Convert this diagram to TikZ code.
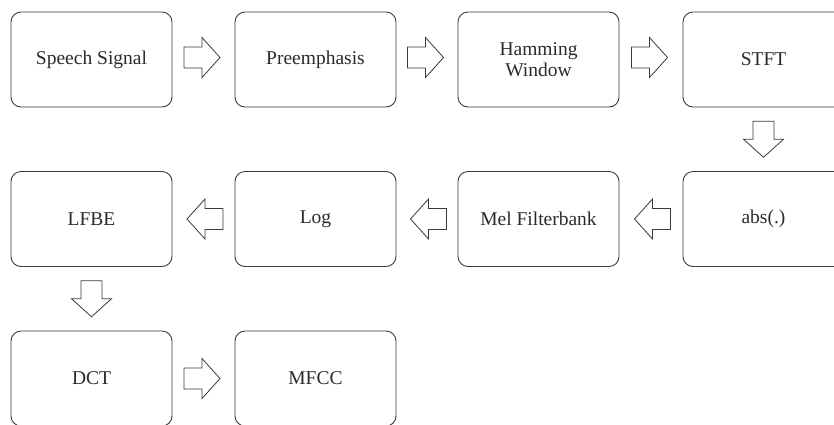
\documentclass[tikz,border=0pt]{standalone}
\usepackage{fontspec}
\setmainfont{Liberation Serif}
\usetikzlibrary{calc}
\definecolor{linec}{HTML}{3A3A3A}
\definecolor{textc}{HTML}{2A2A2A}
\tikzset{
  stagebox/.style={draw=linec, line width=0.9pt, rounded corners=10pt,
    minimum width=161pt, minimum height=95pt, inner sep=0pt, align=center,
    text=textc, font=\fontsize{19.5}{21}\selectfont},
  blockarrow/.pic={
    \draw[draw=linec, line width=0.8pt, fill=white]
      (-18pt,-10.5pt) -- (0pt,-10.5pt) -- (0pt,-20pt) -- (18pt,0pt)
      -- (0pt,20pt) -- (0pt,10.5pt) -- (-18pt,10.5pt) -- cycle;
  }
}
\begin{document}
\begin{tikzpicture}[x=1pt,y=-1pt]
\useasboundingbox (0,0) rectangle (834,424);
\clip (0,0) rectangle (834,424);
% row 1
\node[stagebox] (speech) at (91.5,59.5) {Speech Signal};
\node[stagebox] (pre) at (315.5,59.5) {Preemphasis};
\node[stagebox] (ham) at (538.5,59.5) {Hamming\\Window};
\node[stagebox] (stft) at (763.5,59.5) {STFT};
% row 2
\node[stagebox] (abs) at (763.5,219) {abs(.)};
\node[stagebox] (mel) at (538.5,219) {Mel Filterbank};
\node[stagebox] (log) at (315.5,219) {Log};
\node[stagebox] (lfbe) at (91.5,219) {LFBE};
% row 3
\node[stagebox] (dct) at (91.5,378.5) {DCT};
\node[stagebox] (mfcc) at (315.5,378.5) {MFCC};
% arrows
\pic at ($(speech.east)!0.5!(pre.west)+(-1.5,-2)$) {blockarrow};
\pic at ($(pre.east)!0.5!(ham.west)+(-1.5,-2)$) {blockarrow};
\pic at ($(ham.east)!0.5!(stft.west)+(-1.5,-2)$) {blockarrow};
\pic[rotate=-90] at ($(stft.south)!0.5!(abs.north)$) {blockarrow};
\pic[rotate=180] at ($(abs.west)!0.5!(mel.east)+(1.5,0)$) {blockarrow};
\pic[rotate=180] at ($(mel.west)!0.5!(log.east)+(1.5,0)$) {blockarrow};
\pic[rotate=180] at ($(log.west)!0.5!(lfbe.east)+(1.5,0)$) {blockarrow};
\pic[rotate=-90] at ($(lfbe.south)!0.5!(dct.north)$) {blockarrow};
\pic at ($(dct.east)!0.5!(mfcc.west)+(-1.5,0)$) {blockarrow};
\end{tikzpicture}
\end{document}
